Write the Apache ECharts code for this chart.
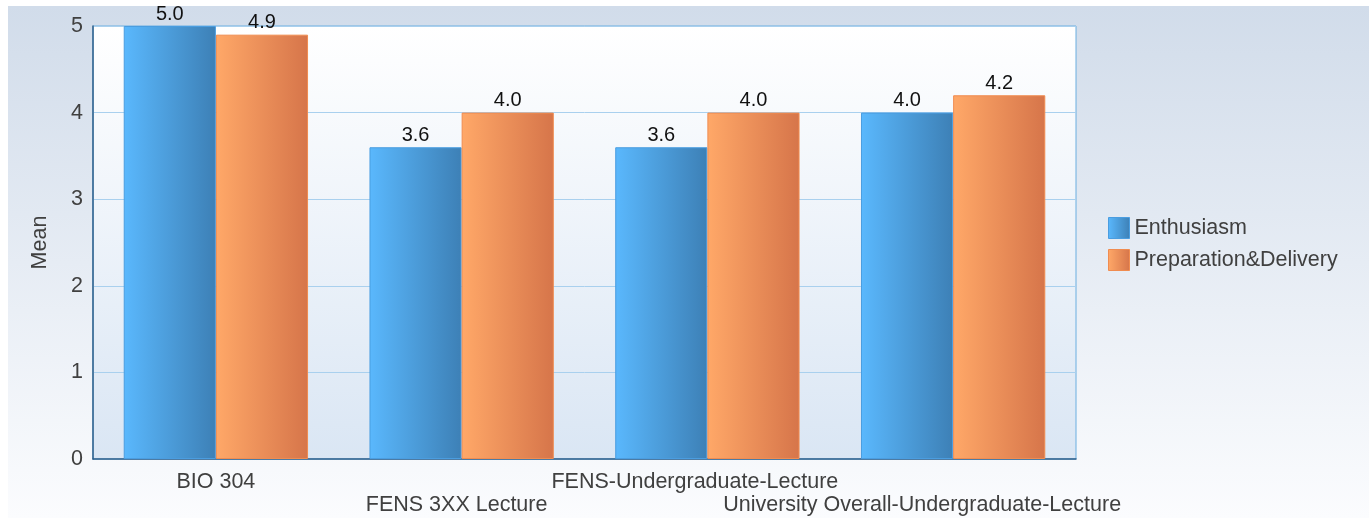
<!DOCTYPE html>
<html><head><meta charset="utf-8">
<script src="https://cdn.jsdelivr.net/npm/echarts@6/dist/echarts.min.js"></script>
<style>html,body{margin:0;padding:0;background:#fff}#c{width:1371px;height:522px}</style>
</head><body><div id="c"></div>
<script>
const categories = ['BIO 304', 'FENS 3XX Lecture', 'FENS-Undergraduate-Lecture', 'University Overall-Undergraduate-Lecture'];
const enthusiasm = [5.0, 3.6, 3.6, 4.0];
const preparation = [4.9, 4.0, 4.0, 4.2];
const yTicks = [0, 1, 2, 3, 4, 5];

const chart = echarts.init(document.getElementById('c'), null, {renderer: 'canvas'});
const font = 'Liberation Sans, Arial, sans-serif';
const hgrad = (a, b) => new echarts.graphic.LinearGradient(0, 0, 1, 0, [{offset: 0, color: a}, {offset: 1, color: b}]);
const lblBase = {fontSize: 21.5, color: '#404040', fontFamily: font, lineHeight: 23};
chart.setOption({
  animation: false,
  textStyle: {fontFamily: font},
  graphic: [{
    type: 'rect', z: -10, silent: true,
    shape: {x: 8, y: 6, width: 1361, height: 512},
    style: {fill: new echarts.graphic.LinearGradient(0, 0, 0, 1, [{offset: 0, color: '#d1dcea'}, {offset: 1, color: '#fbfcfe'}])}
  }],
  grid: {
    left: 93, right: 295, top: 26, bottom: 63, show: true,
    borderColor: '#6aaee0', borderWidth: 1,
    backgroundColor: new echarts.graphic.LinearGradient(0, 0, 0, 1, [{offset: 0, color: '#ffffff'}, {offset: 1, color: '#dae6f4'}])
  },
  legend: {
    orient: 'vertical', left: 1103, top: 212, itemWidth: 21, itemHeight: 21, itemGap: 10, icon: 'rect',
    textStyle: {fontSize: 21.5, color: '#404040', fontFamily: font},
    data: [
      {name: 'Enthusiasm', itemStyle: {color: hgrad('#5ab8fd', '#3d80b6'), borderColor: '#4a9de0', borderWidth: 1}},
      {name: 'Preparation&Delivery', itemStyle: {color: hgrad('#ffa868', '#d6754a'), borderColor: '#f08c50', borderWidth: 1}}
    ]
  },
  xAxis: {
    type: 'category', data: categories,
    axisLine: {lineStyle: {color: '#2f5f8a', width: 1.5}},
    axisTick: {show: false},
    axisLabel: {
      interval: 0, margin: 12, fontSize: 21.5, color: '#404040', lineHeight: 23, fontFamily: font,
      formatter: (v, i) => (i % 2 === 1 ? '\n' : '') + '{l' + i + '|' + v + '}',
      rich: {
        l0: Object.assign({}, lblBase),
        l1: Object.assign({padding: [0, 10, 0, 0]}, lblBase),
        l2: Object.assign({padding: [0, 25, 0, 0]}, lblBase),
        l3: Object.assign({padding: [0, 62, 0, 0]}, lblBase)
      }
    }
  },
  yAxis: {
    type: 'value', min: 0, max: 5, interval: 1,
    name: 'Mean', nameLocation: 'middle', nameGap: 42,
    nameTextStyle: {fontSize: 21.5, color: '#404040', fontFamily: font},
    axisLine: {show: true, lineStyle: {color: '#2f5f8a', width: 1.5}},
    axisTick: {show: false},
    axisLabel: {fontSize: 21.5, color: '#404040', margin: 10, fontFamily: font,
      formatter: v => yTicks.includes(v) ? String(v) : ''},
    splitLine: {lineStyle: {color: '#a9d0ee', width: 1}}
  },
  series: [
    {
      name: 'Enthusiasm', type: 'bar', data: enthusiasm, barGap: '0%', barCategoryGap: '25%',
      itemStyle: {color: hgrad('#5ab8fd', '#3d80b6'), borderColor: '#4a9de0', borderWidth: 1},
      label: {show: true, position: 'top', distance: 2, fontSize: 20, color: '#111', fontFamily: font, formatter: p => p.value.toFixed(1)}
    },
    {
      name: 'Preparation&Delivery', type: 'bar', data: preparation,
      itemStyle: {color: hgrad('#ffa868', '#d6754a'), borderColor: '#f08c50', borderWidth: 1},
      label: {show: true, position: 'top', distance: 2, fontSize: 20, color: '#111', fontFamily: font, formatter: p => p.value.toFixed(1)}
    }
  ]
});
</script></body></html>
